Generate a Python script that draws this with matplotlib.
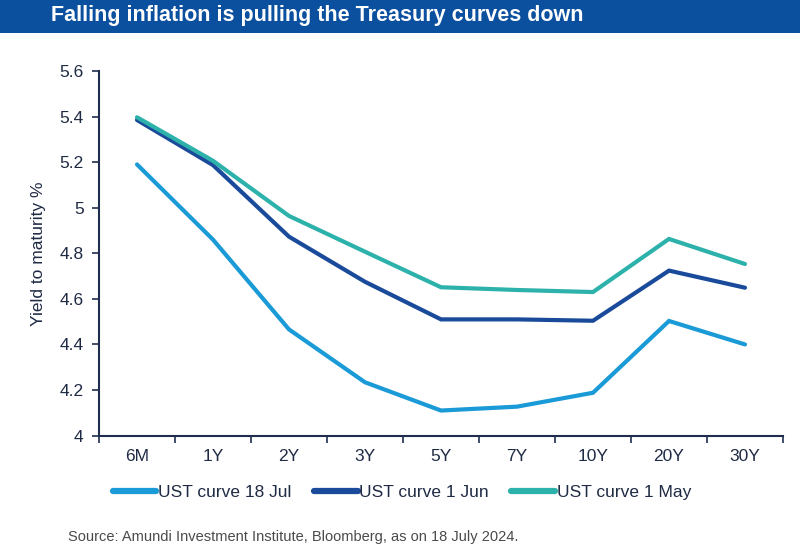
import matplotlib
matplotlib.use("Agg")
import matplotlib.pyplot as plt
from matplotlib.patches import Rectangle

# ---------------- data ----------------
tenors = ["6M", "1Y", "2Y", "3Y", "5Y", "7Y", "10Y", "20Y", "30Y"]
ust_18_jul = [5.19, 4.86, 4.466, 4.234, 4.11, 4.127, 4.188, 4.503, 4.40]
ust_1_jun = [5.385, 5.187, 4.873, 4.675, 4.51, 4.51, 4.504, 4.724, 4.649]
ust_1_may = [5.397, 5.206, 4.964, 4.807, 4.651, 4.639, 4.630, 4.863, 4.753]
series_labels = ["UST curve 18 Jul", "UST curve 1 Jun", "UST curve 1 May"]
y_ticks = [4, 4.2, 4.4, 4.6, 4.8, 5, 5.2, 5.4, 5.6]

colors = ["#1a9ad6", "#1a4b9b", "#2db2ab"]
axis_col = "#1f2d4f"
text_col = "#1f2a44"

plt.rcParams["font.family"] = ["Liberation Sans", "DejaVu Sans"]

fig = plt.figure(figsize=(8, 5.48), dpi=100)

# title banner
fig.patches.append(Rectangle((0, 1 - 33 / 548), 1, 33 / 548, transform=fig.transFigure,
                             facecolor="#0b4f9f", edgecolor="none", zorder=0))
fig.text(51 / 800, 1 - 16 / 548, "Falling inflation is pulling the Treasury curves down",
         color="white", fontsize=15.5, fontweight="bold", va="center", ha="left")

ax = fig.add_axes([99 / 800, 1 - 435.6 / 548, 684 / 800, (435.6 - 71) / 548])
x = list(range(len(tenors)))
for vals, lab, c in zip([ust_18_jul, ust_1_jun, ust_1_may], series_labels, colors):
    ax.plot(x, vals, color=c, lw=3.0, label=lab, solid_capstyle="round", solid_joinstyle="miter")

ax.set_xlim(-0.5, len(tenors) - 0.5)
ax.set_ylim(4, 5.6)
ax.set_yticks(y_ticks)
ax.set_yticklabels([f"{v:g}" for v in y_ticks])
ax.set_xticks(x)
ax.set_xticklabels(tenors)
ax.set_xticks([i - 0.5 for i in range(len(tenors) + 1)], minor=True)
ax.tick_params(axis="x", which="major", length=0, pad=10)
ax.tick_params(axis="x", which="minor", length=5, width=1.2, color=axis_col)
ax.tick_params(axis="y", length=5, width=1.2, color=axis_col, pad=6)
ax.tick_params(labelsize=12.5, labelcolor=text_col)
for s in ["top", "right"]:
    ax.spines[s].set_visible(False)
for s in ["left", "bottom"]:
    ax.spines[s].set_color(axis_col)
    ax.spines[s].set_linewidth(1.5)
ax.set_ylabel("Yield to maturity %", fontsize=12.5, color=text_col, labelpad=10)

leg = fig.legend(loc="center", bbox_to_anchor=(402 / 800, 1 - 492 / 548), ncol=3, frameon=False,
                 fontsize=12.5, handlelength=2.5, handletextpad=0.1, columnspacing=1.3,
                 labelcolor=text_col)
for h in leg.get_lines():
    h.set_linewidth(4.5)

fig.text(68 / 800, 1 - 537 / 548, "Source: Amundi Investment Institute, Bloomberg, as on 18 July 2024.",
         color="#4a4a4a", fontsize=10.5, va="center", ha="left")

fig.savefig("out.png", dpi=100)
